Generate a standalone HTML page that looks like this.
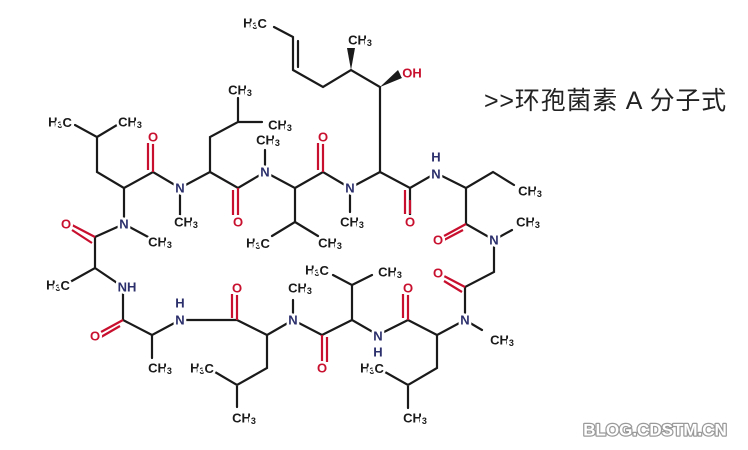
<!DOCTYPE html>
<html><head><meta charset="utf-8"><style>
html,body{margin:0;padding:0;background:#fff;width:748px;height:450px;overflow:hidden}
svg{display:block}
text{font-family:"Liberation Sans",Arial,sans-serif;font-size:13px;font-weight:bold;paint-order:stroke;stroke:#fff;stroke-width:5px;stroke-linejoin:round;text-anchor:middle;dominant-baseline:central}
.c{fill:#1a1a1a}.n{fill:#2b2f6b}.o{fill:#c8102e}
tspan.s{font-size:9px}
</style></head><body>
<svg width="748" height="450" viewBox="0 0 748 450">
<g stroke="#1a1a1a" stroke-width="2.2" fill="none" stroke-linecap="round">
<path d="M274 27L293 37M293 37L293 70M298 41L298 67M293 70L323 87L351 70L380 87L380 172"/>
<path d="M380 172L410 188L436 173L466 188L493 172L514 185M410 188L410 215M466 188L466 224L494 240L512 230M494 240L494 272L465 287L465 320L482 330M465 320L437 335L437 368L408 385L385 372M408 385L408 408M437 335L408 320L378 335L352 320L352 285L333 275M352 285L372 275M352 320L322 335L293 320L293 300M293 320L267 335L267 368L237 385L215 372M237 385L237 407M267 335L237 320L180 320L152 335L152 358M152 335L123 320L123 287L95 268L70 282M95 268L95 237L124 224L150 238M124 224L124 188L97 172L97 137L75 125M97 137L117 125M124 188L153 172L180 188L180 215M180 188L210 172L210 137L238 122L238 98M238 122L262 122M210 172L238 188L265 172L265 150M265 172L295 188L295 222L272 236M295 222L318 236M295 188L323 172L350 188L350 212M350 188L380 172"/>
</g>
<g stroke-width="2.2" fill="none">
<path stroke="#c8102e" d="M405 190L405 214M410 200L410 214M466 224L444 236M463 230L444 240M465 287L444 276M462 292L444 281M408 320L408 294M403 318L403 294M322 335L322 362M327 337L327 362M237 320L237 294M232 318L232 294M123 320L101 332M120 326L101 337M95 237L72 225M92 243L72 230M153 172L153 143M148 170L148 143M238 188L238 215M233 190L233 215M323 172L323 143M318 170L318 143"/>
</g>
<polygon points="351,70 347,48 355,48" fill="#1a1a1a"/>
<polygon points="380,87 398,70 402,78" fill="#1a1a1a"/>
<g>
<text x="255" y="23" class="c">H<tspan class="s" dy="3">3</tspan><tspan dy="-3">C</tspan></text>
<text x="360" y="40" class="c">CH<tspan class="s" dy="3">3</tspan></text>
<text x="412" y="73" class="o">OH</text>
<text x="410" y="222" class="o">O</text>
<text x="436" y="174" class="n">N</text><text x="436" y="157" class="n">H</text>
<text x="530" y="191" class="c">CH<tspan class="s" dy="3">3</tspan></text>
<text x="438" y="240" class="o">O</text>
<text x="494" y="240" class="n">N</text>
<text x="528" y="222" class="c">CH<tspan class="s" dy="3">3</tspan></text>
<text x="438" y="273" class="o">O</text>
<text x="465" y="320" class="n">N</text>
<text x="502" y="340" class="c">CH<tspan class="s" dy="3">3</tspan></text>
<text x="372" y="368" class="c">H<tspan class="s" dy="3">3</tspan><tspan dy="-3">C</tspan></text>
<text x="415" y="418" class="c">CH<tspan class="s" dy="3">3</tspan></text>
<text x="408" y="288" class="o">O</text>
<text x="378" y="336" class="n">N</text><text x="378" y="352" class="n">H</text>
<text x="317" y="270" class="c">H<tspan class="s" dy="3">3</tspan><tspan dy="-3">C</tspan></text>
<text x="390" y="272" class="c">CH<tspan class="s" dy="3">3</tspan></text>
<text x="322" y="368" class="o">O</text>
<text x="293" y="320" class="n">N</text>
<text x="300" y="288" class="c">CH<tspan class="s" dy="3">3</tspan></text>
<text x="202" y="368" class="c">H<tspan class="s" dy="3">3</tspan><tspan dy="-3">C</tspan></text>
<text x="244" y="418" class="c">CH<tspan class="s" dy="3">3</tspan></text>
<text x="237" y="288" class="o">O</text>
<text x="180" y="320" class="n">N</text><text x="180" y="303" class="n">H</text>
<text x="160" y="368" class="c">CH<tspan class="s" dy="3">3</tspan></text>
<text x="95" y="336" class="o">O</text>
<text x="127" y="287" class="n">NH</text>
<text x="58" y="285" class="c">H<tspan class="s" dy="3">3</tspan><tspan dy="-3">C</tspan></text>
<text x="66" y="224" class="o">O</text>
<text x="124" y="224" class="n">N</text>
<text x="160" y="242" class="c">CH<tspan class="s" dy="3">3</tspan></text>
<text x="60" y="122" class="c">H<tspan class="s" dy="3">3</tspan><tspan dy="-3">C</tspan></text>
<text x="130" y="122" class="c">CH<tspan class="s" dy="3">3</tspan></text>
<text x="153" y="137" class="o">O</text>
<text x="180" y="188" class="n">N</text>
<text x="186" y="222" class="c">CH<tspan class="s" dy="3">3</tspan></text>
<text x="240" y="90" class="c">CH<tspan class="s" dy="3">3</tspan></text>
<text x="280" y="125" class="c">CH<tspan class="s" dy="3">3</tspan></text>
<text x="238" y="222" class="o">O</text>
<text x="265" y="172" class="n">N</text>
<text x="268" y="140" class="c">CH<tspan class="s" dy="3">3</tspan></text>
<text x="258" y="243" class="c">H<tspan class="s" dy="3">3</tspan><tspan dy="-3">C</tspan></text>
<text x="330" y="243" class="c">CH<tspan class="s" dy="3">3</tspan></text>
<text x="323" y="137" class="o">O</text>
<text x="350" y="188" class="n">N</text>
<text x="352" y="222" class="c">CH<tspan class="s" dy="3">3</tspan></text>
</g>
<text x="484" y="101" style="font-size:25px;letter-spacing:0.8px;font-weight:normal;fill:#222;text-anchor:start;stroke:none;font-family:'Liberation Sans','Noto Sans CJK SC',sans-serif">&gt;&gt;环孢菌素 A 分子式</text>
<text x="655" y="430" style="font-size:17px;font-weight:bold;fill:#fff;stroke:#9a9a9a;stroke-width:2.5px">BLOG.CDSTM.CN</text>
</svg>
</body></html>
